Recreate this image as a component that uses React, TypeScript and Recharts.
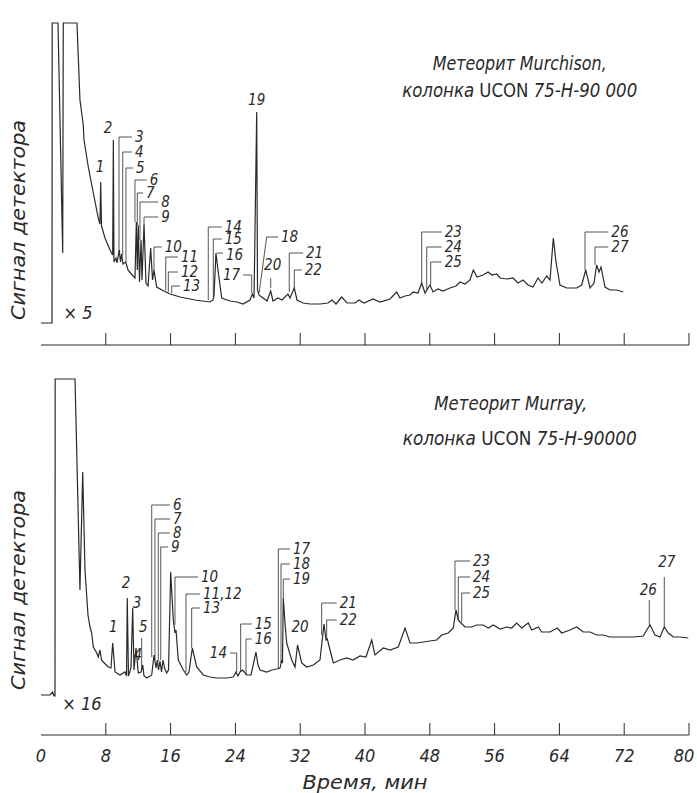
import React from "react";
import { LineChart, Line, XAxis, YAxis, ReferenceLine, ReferenceDot } from "recharts";

const INK = "#2a2a2a";
const FONT = "'DejaVu Sans Condensed', 'Liberation Sans Narrow', 'DejaVu Sans', sans-serif";

const xTicks = [0, 8, 16, 24, 32, 40, 48, 56, 64, 72, 80];

// Murchison, x5 — time (min) and detector signal
const murchisonTime = [
  0, 1.36, 1.38, 2.1, 2.68, 2.75, 4.44, 4.81, 5.22, 5.31,
  5.84, 6.46, 7.07, 7.28, 7.37, 7.47, 7.9, 8.52, 8.85, 8.93,
  9.01, 9.26, 9.38, 9.67, 9.81, 9.96, 10.12, 10.46, 10.74, 11.36,
  11.6, 11.77, 11.89, 12.01, 12.16, 12.35, 12.47, 12.72, 12.96, 13.21,
  13.54, 13.77, 13.95, 14.28, 14.94, 15.93, 17.16, 19.01, 20.86, 21.23,
  21.36, 21.6, 21.85, 22.31, 23.33, 24.2, 24.94, 25.8, 26.09, 26.3,
  26.63, 26.73, 26.91, 27.41, 27.9, 28.36, 28.64, 29.26, 29.75, 30.49,
  30.74, 31.27, 31.6, 32.35, 33.21, 34.44, 35.43, 35.93, 36.42, 37.12,
  37.78, 38.77, 39.26, 39.88, 40.99, 41.85, 43.09, 43.91, 44.32, 44.94,
  45.56, 45.96, 46.54, 47.0, 47.41, 48.02, 48.4, 49.01, 49.63, 50.49,
  51.23, 51.73, 52.35, 52.96, 53.37, 53.83, 54.57, 55.19, 55.68, 56.26,
  56.67, 57.49, 58.27, 58.89, 59.51, 60.12, 60.74, 61.36, 61.85, 62.43,
  62.84, 63.25, 63.58, 64.07, 64.9, 66.14, 66.75, 67.25, 67.78, 68.27,
  68.6, 68.89, 69.14, 69.63, 70.25, 71.07, 71.89,
];
const murchisonSignal = [
  22, 22, 322, 322, 92, 322, 322, 245, 220, 205,
  178, 152, 127, 121, 163, 119, 107, 95, 90, 205,
  83, 87, 82, 95, 83, 91, 81, 83, 75, 69,
  67, 123, 75, 120, 63, 105, 65, 121, 62, 59,
  97, 65, 75, 58, 55, 51, 48, 45, 43, 45,
  49, 92, 75, 47, 44, 43, 41, 45, 51, 47,
  233, 55, 50, 47, 44, 54, 44, 47, 45, 51,
  47, 57, 45, 42, 41, 41, 42, 45, 41, 48,
  42, 42, 45, 42, 46, 43, 46, 53, 47, 49,
  50, 53, 52, 62, 52, 60, 53, 56, 54, 57,
  59, 63, 61, 65, 75, 68, 70, 73, 70, 71,
  67, 66, 67, 62, 65, 60, 58, 67, 62, 69,
  65, 107, 83, 60, 57, 57, 60, 75, 57, 62,
  80, 73, 78, 58, 55, 55, 53,
];

// Murray, x16
const murrayTime = [
  0, 1.11, 1.44, 1.6, 1.73, 1.75, 4.2, 4.81, 5.15, 5.43,
  5.8, 6.05, 6.26, 6.46, 6.88, 7.07, 7.28, 7.47, 7.69, 8.31,
  8.64, 8.85, 9.14, 9.75, 10.37, 10.56, 10.65, 10.8, 11.11, 11.32,
  11.48, 11.73, 12.01, 12.35, 12.56, 12.72, 13.05, 13.67, 13.95, 14.2,
  14.36, 14.51, 14.69, 14.88, 15.06, 15.25, 15.52, 15.74, 16.01, 16.33,
  16.54, 16.67, 16.95, 17.57, 17.99, 18.27, 18.68, 19.22, 20.04, 20.86,
  21.69, 22.93, 23.74, 24.07, 24.32, 24.57, 24.9, 25.4, 25.93, 26.54,
  26.79, 27.04, 27.86, 28.52, 29.1, 29.51, 29.72, 29.81, 29.91, 30.12,
  30.33, 30.95, 31.36, 31.67, 32.19, 32.8, 33.62, 34.44, 34.94, 35.19,
  35.35, 35.68, 36.09, 36.91, 37.74, 38.52, 39.38, 40.12, 40.83, 41.23,
  42.26, 43.09, 44.11, 44.94, 45.56, 46.38, 47.2, 48.02, 48.85, 49.47,
  50.28, 50.9, 51.23, 51.52, 51.73, 52.35, 53.17, 53.79, 54.6, 55.22,
  55.84, 56.67, 57.49, 58.11, 58.73, 59.35, 60.16, 60.58, 61.4, 61.81,
  62.84, 63.74, 64.28, 65.31, 66.14, 66.95, 67.78, 68.6, 69.42, 70.25,
  71.48, 73.12, 74.36, 74.78, 75.19, 75.8, 76.42, 76.95, 77.44, 78.06,
  78.89, 79.91,
];
const murraySignal = [
  40, 40, 43, 39, 39, 356, 356, 145, 263, 165,
  120, 108, 102, 88, 82, 78, 85, 75, 73, 68,
  67, 92, 63, 60, 63, 59, 137, 59, 67, 127,
  65, 87, 62, 63, 70, 59, 57, 60, 80, 67,
  75, 65, 74, 63, 75, 67, 62, 65, 163, 115,
  102, 105, 75, 65, 60, 63, 87, 68, 60, 58,
  57, 57, 58, 63, 59, 63, 65, 60, 60, 83,
  70, 65, 63, 65, 66, 67, 75, 72, 137, 112,
  92, 75, 68, 90, 72, 68, 70, 75, 111, 95,
  96, 85, 72, 75, 77, 75, 79, 78, 95, 80,
  87, 85, 88, 107, 92, 92, 93, 94, 95, 100,
  102, 107, 125, 115, 113, 108, 108, 110, 110, 107,
  110, 106, 108, 107, 112, 107, 112, 105, 108, 103,
  103, 107, 102, 105, 108, 103, 103, 100, 100, 98,
  98, 98, 99, 105, 110, 100, 98, 108, 102, 98,
  98, 97,
];

type Anchor = "start" | "middle" | "end";
type Ann = { n: string; line: [number, number][]; at: [number, number]; anchor: Anchor };

const lead = (n: string, t: number, from: number, to: number, tx: number): Ann => ({
  n,
  line: [[t, from], [t, to], [tx, to]],
  at: [tx, to],
  anchor: "start",
});

// peak numbers (time, signal) with their leader lines
const murchisonPeaks: Ann[] = [
  { n: "1", line: [], at: [7.28, 178], anchor: "middle" },
  { n: "2", line: [], at: [8.27, 217], anchor: "middle" },
  lead("3", 9.63, 92, 208, 11.23),
  lead("4", 10.09, 90, 193, 11.23),
  lead("5", 10.49, 83, 177, 11.36),
  lead("6", 11.6, 123, 165, 13.05),
  lead("7", 11.89, 120, 152, 12.6),
  lead("8", 12.22, 105, 143, 14.48),
  lead("9", 12.72, 121, 128, 14.48),
  lead("10", 13.95, 75, 98, 14.9),
  lead("11", 15.4, 55, 88, 16.91),
  lead("12", 15.72, 53, 73, 16.91),
  lead("13", 16.14, 52, 59, 17.16),
  lead("14", 20.65, 45, 118, 22.31),
  lead("15", 21.27, 48, 106, 22.31),
  { n: "16", line: [[21.7, 92], [22.47, 92]], at: [22.47, 90], anchor: "start" },
  { n: "17", line: [[26.01, 52], [26.01, 70], [24.95, 70]], at: [24.95, 70], anchor: "end" },
  { n: "18", line: [[26.93, 52], [27.86, 108], [29.26, 108]], at: [29.26, 108], anchor: "start" },
  { n: "19", line: [], at: [26.63, 245], anchor: "middle" },
  { n: "20", line: [[28.36, 57], [28.36, 67]], at: [28.6, 80], anchor: "middle" },
  lead("21", 30.65, 53, 92, 32.35),
  lead("22", 31.27, 57, 75, 32.19),
  lead("23", 47.0, 62, 113, 49.47),
  lead("24", 47.62, 55, 98, 49.47),
  lead("25", 48.11, 60, 83, 49.47),
  lead("26", 67.16, 75, 113, 70.04),
  lead("27", 68.4, 80, 98, 70.04),
];

const murrayPeaks: Ann[] = [
  { n: "1", line: [], at: [8.93, 108], anchor: "middle" },
  { n: "2", line: [], at: [10.49, 152], anchor: "middle" },
  { n: "3", line: [], at: [11.85, 132], anchor: "middle" },
  { n: "4", line: [], at: [11.95, 80], anchor: "middle" },
  { n: "5", line: [[12.43, 65], [12.43, 97]], at: [12.63, 108], anchor: "middle" },
  lead("6", 13.67, 78, 230, 15.93),
  lead("7", 14.07, 75, 216, 15.93),
  lead("8", 14.48, 74, 202, 15.93),
  lead("9", 14.78, 75, 188, 15.68),
  lead("10", 16.54, 110, 158, 19.38),
  lead("11,12", 17.9, 63, 141, 19.63),
  lead("13", 18.6, 87, 127, 19.63),
  { n: "14", line: [[24.16, 63], [24.16, 82], [23.33, 82]], at: [23.33, 82], anchor: "end" },
  lead("15", 24.65, 63, 111, 26.01),
  lead("16", 25.31, 60, 96, 26.01),
  lead("17", 29.3, 66, 186, 30.74),
  lead("18", 29.63, 72, 171, 30.74),
  lead("19", 29.91, 137, 156, 30.74),
  { n: "20", line: [], at: [31.98, 108], anchor: "middle" },
  lead("21", 34.65, 100, 132, 36.5),
  lead("22", 35.27, 96, 115, 36.5),
  lead("23", 51.11, 125, 174, 52.96),
  lead("24", 51.52, 115, 158, 52.96),
  lead("25", 51.94, 113, 142, 52.96),
  { n: "26", line: [[75.1, 110], [75.1, 135]], at: [74.98, 145], anchor: "middle" },
  { n: "27", line: [[76.95, 108], [76.95, 158]], at: [77.25, 173], anchor: "middle" },
];

type Note = { text: React.ReactNode; at: [number, number]; size: number; rotate?: boolean; width?: number };

const yTitle = "Сигнал детектора";

const murchisonNotes: Note[] = [
  { text: "Метеорит  Murchison,", at: [59.1, 282], size: 19, width: 174 },
  {
    text: (
      <>
        колонка <tspan fontStyle="normal">UCON</tspan>  75-H-90 000
      </>
    ),
    at: [59.1, 255],
    size: 19,
    width: 235,
  },
  { text: "× 5", at: [4.57, 33], size: 18 },
  { text: yTitle, at: [-2.84, 125], size: 20, rotate: true, width: 200 },
];

const murrayNotes: Note[] = [
  { text: "Метеорит  Murray,", at: [58.0, 332], size: 19, width: 153 },
  {
    text: (
      <>
        колонка <tspan fontStyle="normal">UCON</tspan> 75-H-90000
      </>
    ),
    at: [59.1, 297],
    size: 19,
    width: 234,
  },
  { text: "× 16", at: [5.06, 32], size: 18 },
  { text: yTitle, at: [-2.84, 145], size: 20, rotate: true, width: 200 },
  { text: "Время,  мин", at: [40, -47], size: 19, width: 125 },
];

const murchisonData = murchisonTime.map((t, i) => ({ t, v: murchisonSignal[i] }));
const murrayData = murrayTime.map((t, i) => ({ t, v: murraySignal[i] }));

const XTick = ({ x, y, payload, labels }: any) => (
  <g>
    {payload.value > 0 && <line x1={x} y1={y} x2={x} y2={y - 12} stroke={INK} strokeWidth={1} />}
    {labels && (
      <text
        x={payload.value === 80 ? x - 5 : x}
        y={y + 20}
        textAnchor="middle"
        dominantBaseline="central"
        fontFamily={FONT}
        fontStyle="italic"
        fontSize={18}
        fill={INK}
      >
        {payload.value}
      </text>
    )}
  </g>
);

interface TraceProps {
  data: { t: number; v: number }[];
  peaks: Ann[];
  notes: Note[];
  yMax: number;
  height: number;
  top: number;
  axisHeight: number;
  labels: boolean;
}

function Trace({ data, peaks, notes, yMax, height, top, axisHeight, labels }: TraceProps) {
  return (
    <LineChart width={697} height={height} data={data} margin={{ top, right: 8, bottom: 0, left: 41 }}>
      <XAxis
        dataKey="t"
        type="number"
        domain={[0, 80]}
        ticks={xTicks}
        interval={0}
        allowDataOverflow
        height={axisHeight}
        tickLine={false}
        tickSize={0}
        tickMargin={0}
        axisLine={{ stroke: INK, strokeWidth: 1.2 }}
        tick={(p: any) => <XTick {...p} labels={labels} />}
      />
      <YAxis
        type="number"
        domain={[0, yMax]}
        allowDataOverflow
        width={0}
        tick={false}
        tickLine={false}
        axisLine={{ stroke: INK, strokeWidth: 1.2 }}
      />
      <Line
        dataKey="v"
        type="linear"
        stroke={INK}
        strokeWidth={1.2}
        dot={false}
        activeDot={false}
        isAnimationActive={false}
      />
      {peaks.flatMap((a) =>
        a.line.slice(1).map((pt, i) => (
          <ReferenceLine
            key={`${a.n}-${i}`}
            segment={[
              { x: a.line[i][0], y: a.line[i][1] },
              { x: pt[0], y: pt[1] },
            ]}
            stroke={INK}
            strokeWidth={0.8}
          />
        ))
      )}
      {peaks.map((a) => (
        <ReferenceDot
          key={`lbl-${a.n}`}
          x={a.at[0]}
          y={a.at[1]}
          r={0}
          ifOverflow="visible"
          shape={(p: any) => (
            <text
              x={p.cx + (a.anchor === "start" ? 3 : a.anchor === "end" ? -3 : 0)}
              y={p.cy}
              textAnchor={a.anchor}
              dominantBaseline="central"
              fontFamily={FONT}
              fontStyle="italic"
              fontSize={15}
              fill={INK}
            >
              {a.n}
            </text>
          )}
        />
      ))}
      {notes.map((nt, i) => (
        <ReferenceDot
          key={`note-${i}`}
          x={nt.at[0]}
          y={nt.at[1]}
          r={0}
          ifOverflow="visible"
          shape={(p: any) => (
            <text
              x={p.cx}
              y={p.cy}
              transform={nt.rotate ? `rotate(-90 ${p.cx} ${p.cy})` : undefined}
              textAnchor="middle"
              dominantBaseline="central"
              fontFamily={FONT}
              fontStyle="italic"
              fontSize={nt.size}
              fill={INK}
              textLength={nt.width}
              lengthAdjust={nt.width ? "spacingAndGlyphs" : undefined}
            >
              {nt.text}
            </text>
          )}
        />
      ))}
    </LineChart>
  );
}

export default function App() {
  return (
    <div style={{ position: "absolute", left: 0, top: 0, width: 697, height: 793, background: "#fff" }}>
      <div style={{ position: "absolute", left: 0, top: 0 }}>
        <Trace
          data={murchisonData}
          peaks={murchisonPeaks}
          notes={murchisonNotes}
          yMax={332}
          height={360}
          top={13}
          axisHeight={15}
          labels={false}
        />
      </div>
      <div style={{ position: "absolute", left: 0, top: 360 }}>
        <Trace
          data={murrayData}
          peaks={murrayPeaks}
          notes={murrayNotes}
          yMax={360}
          height={433}
          top={15}
          axisHeight={58}
          labels={true}
        />
      </div>
    </div>
  );
}
